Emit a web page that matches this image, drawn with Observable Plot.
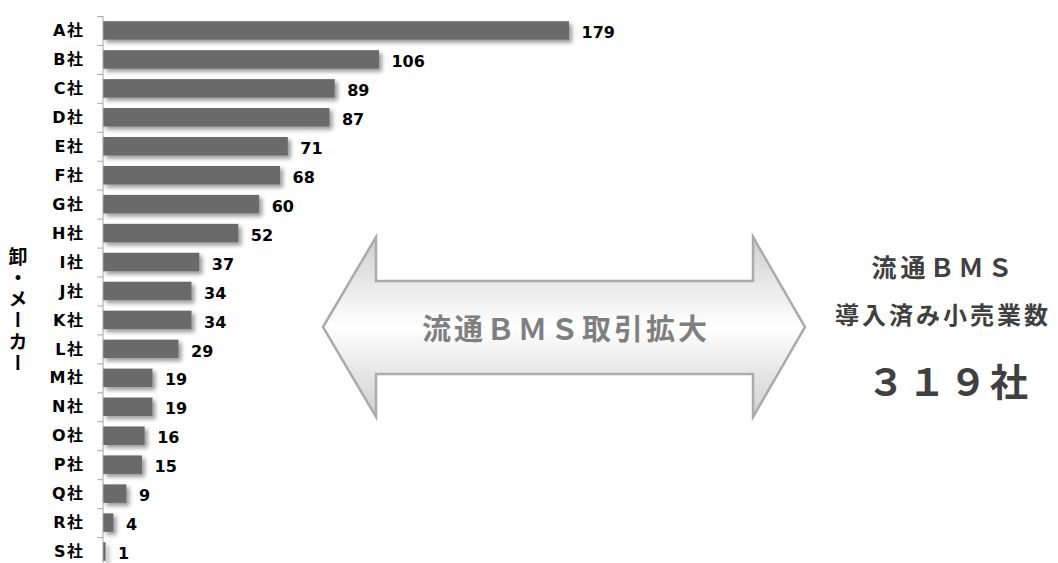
<!DOCTYPE html>
<html>
<head>
<meta charset="utf-8">
<script src="https://cdn.jsdelivr.net/npm/d3@7"></script>
<script src="https://cdn.jsdelivr.net/npm/@observablehq/plot@0.6"></script>
<style>
  html, body { margin: 0; padding: 0; background: #fff; }
  #chart svg { display: block; }
</style>
</head>
<body>
<div id="chart"></div>
<script>
// Companies (wholesalers / manufacturers) and their number of trading partners
const companies = ["A社","B社","C社","D社","E社","F社","G社","H社","I社","J社",
                   "K社","L社","M社","N社","O社","P社","Q社","R社","S社"];
const counts = [179, 106, 89, 87, 71, 68, 60, 52, 37, 34, 34, 29, 19, 19, 16, 15, 9, 4, 1];

const axisTitle = "卸・メーカー";
const arrowText = "流通ＢＭＳ取引拡大";
const sideLines = ["流通ＢＭＳ", "導入済み小売業数"];
const sideTotal = "３１９社";

const rows = companies.map((name, i) => ({name, count: counts[i]}));

const latin = "'DejaVu Sans', 'Noto Sans CJK JP', sans-serif";
const cjk = "'Noto Sans CJK JP', 'DejaVu Sans', sans-serif";

const yRange = [16, 566];
const rowStep = (yRange[1] - yRange[0]) / companies.length;

const chart = Plot.plot({
  width: 1058,
  height: 563,
  marginLeft: 103,
  marginRight: 0,
  marginTop: 16,
  marginBottom: 0,
  style: {fontFamily: latin, fontSize: "16px", fontWeight: "bold", color: "#000", background: "#fff"},
  x: {domain: [0, 179], range: [103, 569], axis: null},
  y: {domain: companies, range: yRange, round: false, paddingInner: 0.36, paddingOuter: 0.18,
      label: null, tickSize: 0, tickPadding: 19},
  marks: [
    Plot.barX(rows, {x: "count", y: "name", fill: "#6b6b6b"}),
    Plot.ruleX([0], {stroke: "#a6a6a6", dx: -0.5}),
    // ticks sit on the boundaries between categories
    Plot.ruleY(companies, {y: d => d, x1: -2.2, x2: 0, stroke: "#a6a6a6", dy: -rowStep / 2}),
    Plot.text(rows, {x: "count", y: "name", text: d => String(d.count), textAnchor: "start",
                     dx: 12, dy: 2, fontSize: 16, fontWeight: "bold", fill: "#000"})
  ]
});

const svg = d3.select(chart);
// spread the company labels a little, like "B 社"
svg.selectAll("g[aria-label='y-axis tick label'] text, g[aria-label='y-axis'] text")
  .attr("letter-spacing", 1.5);

const defs = svg.insert("defs", ":first-child");
const shadow = defs.append("filter").attr("id", "barShadow")
  .attr("x", "-10%").attr("y", "-30%").attr("width", "130%").attr("height", "180%");
shadow.append("feDropShadow").attr("dx", 3).attr("dy", 3).attr("stdDeviation", 2)
  .attr("flood-color", "#000").attr("flood-opacity", 0.4);
svg.select("g[aria-label='bar']").attr("filter", "url(#barShadow)");

// vertical axis title
svg.append("text")
  .attr("x", 18).attr("y", 247)
  .attr("text-anchor", "start")
  .attr("writing-mode", "vertical-rl")
  .style("text-orientation", "upright")
  .attr("font-family", cjk).attr("font-size", 19).attr("font-weight", "bold")
  .attr("letter-spacing", 2.2).attr("fill", "#000")
  .text(axisTitle);

// double-headed arrow
const grad = defs.append("linearGradient").attr("id", "arrowFill")
  .attr("x1", 0).attr("y1", 0).attr("x2", 0).attr("y2", 1);
grad.append("stop").attr("offset", "0%").attr("stop-color", "#cfcfcf");
grad.append("stop").attr("offset", "50%").attr("stop-color", "#ffffff");
grad.append("stop").attr("offset", "100%").attr("stop-color", "#cfcfcf");

const arrow = [[323, 327], [376, 237], [376, 281], [753, 281], [753, 237], [805, 327],
               [753, 417], [753, 374], [376, 374], [376, 417]];
svg.append("path")
  .attr("d", d3.line()(arrow) + "Z")
  .attr("fill", "url(#arrowFill)")
  .attr("stroke", "#ababab").attr("stroke-width", 2.5).attr("stroke-linejoin", "miter");

svg.append("text")
  .attr("x", 566).attr("y", 340)
  .attr("text-anchor", "middle")
  .attr("font-family", cjk).attr("font-size", 29).attr("font-weight", "bold")
  .attr("letter-spacing", 3).attr("fill", "#7f7f7f")
  .text(arrowText);

// total on the right
svg.append("text").attr("x", 944).attr("y", 277).attr("text-anchor", "middle")
  .attr("font-family", cjk).attr("font-size", 25).attr("font-weight", "bold")
  .attr("letter-spacing", 4).attr("fill", "#404040").text(sideLines[0]);
svg.append("text").attr("x", 943).attr("y", 324).attr("text-anchor", "middle")
  .attr("font-family", cjk).attr("font-size", 24).attr("font-weight", "bold")
  .attr("letter-spacing", 3).attr("fill", "#404040").text(sideLines[1]);
svg.append("text").attr("x", 949).attr("y", 396).attr("text-anchor", "middle")
  .attr("font-family", cjk).attr("font-size", 38).attr("font-weight", "bold")
  .attr("letter-spacing", 3).attr("fill", "#404040").text(sideTotal);

document.getElementById("chart").appendChild(chart);
</script>
</body>
</html>
